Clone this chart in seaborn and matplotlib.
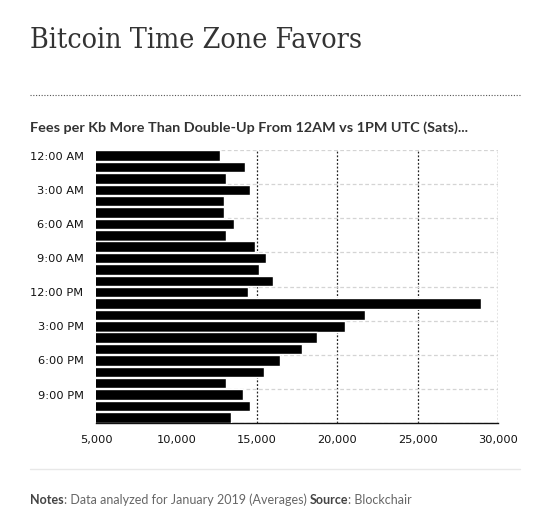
import numpy as np
import pandas as pd
import seaborn as sns
import matplotlib.pyplot as plt
from matplotlib.lines import Line2D

# hourly average fee per kb (sats), January 2019
hours = ["12:00 AM", "1:00 AM", "2:00 AM", "3:00 AM", "4:00 AM", "5:00 AM",
         "6:00 AM", "7:00 AM", "8:00 AM", "9:00 AM", "10:00 AM", "11:00 AM",
         "12:00 PM", "1:00 PM", "2:00 PM", "3:00 PM", "4:00 PM", "5:00 PM",
         "6:00 PM", "7:00 PM", "8:00 PM", "9:00 PM", "10:00 PM", "11:00 PM"]
fees = [12690, 14260, 13080, 14570, 12960, 12960,
        13580, 13080, 14880, 15570, 15130, 16000,
        14450, 28930, 21720, 20480, 18740, 17800,
        16440, 15440, 13080, 14140, 14570, 13390]
x_ticks = [5000, 10000, 15000, 20000, 25000, 30000]

df = pd.DataFrame({"hour": hours, "fees": fees})

sns.set_style("white")
fig = plt.figure(figsize=(5.36, 5.30), dpi=100)
ax = fig.add_axes([96 / 536, 1 - 423 / 530, 402 / 536, 273 / 530])

sns.barplot(data=df, y="hour", x="fees", order=hours, orient="h",
            color="black", saturation=1, width=0.92, ax=ax, zorder=3)

ax.set_xlim(5000, 30000)
ax.set_ylim(len(hours) - 0.5, -0.5)
ax.set_xticks(x_ticks)
ax.set_xticklabels([f"{v:,}" for v in x_ticks])
ax.set_yticks(range(0, len(hours), 3))
ax.set_yticklabels(hours[::3])
ax.set_yticks(np.arange(-0.5, len(hours), 3), minor=True)
ax.set_xlabel("")
ax.set_ylabel("")

for s in ["top", "right", "left"]:
    ax.spines[s].set_visible(False)
ax.spines["bottom"].set_color("#111111")
ax.spines["bottom"].set_linewidth(1.0)

ax.tick_params(axis="both", which="major", labelsize=8.2, colors="#111111",
               length=5, width=1, pad=4)
ax.tick_params(axis="y", which="minor", length=0)
ax.grid(False)
ax.grid(axis="x", which="major", color="#222222", linestyle=(0, (1.5, 1.5)),
        linewidth=0.9, zorder=0)
ax.grid(axis="y", which="minor", color="#d4d4d4", linestyle=(0, (3, 2)),
        linewidth=0.9, zorder=0)
ax.set_axisbelow(True)
for lbl in ax.get_xticklabels() + ax.get_yticklabels():
    lbl.set_family("DejaVu Sans")

# title, rules and subtitle
fig.text(30 / 536, 1 - 40 / 530, "Bitcoin Time Zone Favors", family="DejaVu Serif",
         fontsize=20.5, fontstretch="condensed", color="#333333",
         va="center", ha="left")
fig.add_artist(Line2D([30 / 536, 520 / 536], [1 - 95 / 530, 1 - 95 / 530],
                      color="#555555", linewidth=0.8, linestyle=(0, (1, 1.5))))
fig.text(30 / 536, 1 - 128 / 530,
         "Fees per Kb More Than Double-Up From 12AM vs 1PM UTC (Sats)...",
         family="Lato", fontweight="bold", fontsize=10.4, color="#333333",
         va="center", ha="left")
fig.add_artist(Line2D([30 / 536, 520 / 536], [1 - 469 / 530, 1 - 469 / 530],
                      color="#e8e8e8", linewidth=1.0))

# footnote with bold labels
renderer = fig.canvas.get_renderer()
parts = [("Notes", "bold"), (": Data analyzed for January 2019 (Averages) ", "normal"),
         ("Source", "bold"), (": Blockchair", "normal")]
x = 30
for txt, weight in parts:
    t = fig.text(x / 536, 1 - 500 / 530, txt, family="Lato", fontweight=weight,
                 fontsize=9, color="#444444" if weight == "bold" else "#666666",
                 va="center", ha="left")
    x += t.get_window_extent(renderer).width

fig.savefig("out.png", dpi=100)
